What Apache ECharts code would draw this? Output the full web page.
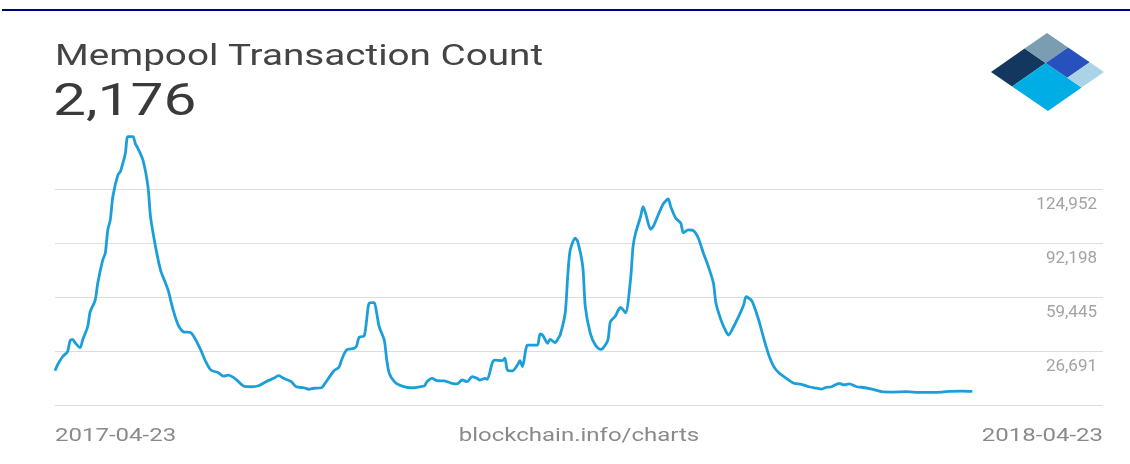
<!DOCTYPE html>
<html>
<head>
<meta charset="utf-8">
<title>Mempool Transaction Count</title>
<script src="https://cdn.jsdelivr.net/npm/echarts@6/dist/echarts.min.js"></script>
<style>
  html, body { margin: 0; padding: 0; background: #fff; }
  #chart { width: 1130px; height: 464px; }
</style>
</head>
<body>
<div id="chart"></div>
<script>
// data (day offset from 2017-04-23, tx count)
const startDate = [2017, 3, 23];
const dayOffsets = [
  0, 1, 3, 5, 6, 7, 8, 10, 11, 13, 14, 16, 17, 19, 20, 21, 22, 23, 25, 26,
  27, 28, 29, 31, 32, 33, 35, 37, 38, 40, 42, 44, 45, 47, 49, 51, 54, 56, 58, 60,
  62, 65, 67, 69, 71, 73, 75, 78, 81, 84, 87, 89, 91, 94, 96, 99, 101, 103, 106, 107,
  111, 113, 114, 116, 119, 120, 121, 123, 124, 125, 127, 128, 129, 131, 132, 133, 135, 137, 140, 143,
  145, 147, 148, 150, 152, 155, 158, 160, 162, 164, 166, 168, 169, 171, 172, 174, 175, 178, 179, 180,
  182, 184, 185, 186, 188, 190, 192, 193, 194, 196, 197, 199, 200, 201, 203, 204, 205, 207, 208, 210,
  211, 213, 215, 217, 218, 220, 221, 223, 224, 225, 227, 229, 230, 231, 233, 234, 235, 237, 238, 240,
  242, 244, 245, 247, 249, 250, 252, 254, 256, 258, 260, 262, 263, 265, 267, 268, 270, 272, 274, 275,
  277, 278, 280, 282, 284, 286, 288, 291, 294, 297, 300, 303, 305, 307, 309, 312, 314, 316, 319, 321,
  325, 329, 333, 339, 344, 349, 353, 356, 361, 365
];
const txCounts = [
  14700, 18200, 23200, 26300, 32900, 33800, 31700, 28700, 33400, 41400, 50500, 57600, 67800, 81900, 86000, 100100, 106200, 120300, 133400, 135500,
  140500, 146600, 156700, 156700, 152300, 149600, 142500, 126400, 108200, 90000, 75800, 67800, 63700, 51600, 42500, 38400, 37800, 33400, 27300, 20200,
  15200, 13500, 11500, 12100, 10700, 8100, 5500, 5000, 5600, 8100, 10100, 11700, 10100, 8100, 5000, 4400, 3500, 4100, 4400, 6100,
  14700, 16800, 21200, 27300, 28300, 29700, 35000, 35800, 45500, 55600, 56000, 49600, 41400, 33400, 21200, 13200, 8100, 6100, 4700, 4400,
  5000, 5500, 8100, 10100, 8700, 8500, 7100, 6700, 9100, 8100, 11100, 10100, 9100, 10100, 9500, 19600, 21200, 20800, 22300, 15200,
  14600, 18200, 20800, 17200, 30300, 30300, 30300, 37000, 36400, 31400, 33800, 31700, 33800, 36400, 49600, 71800, 88000, 95100, 93000, 77800,
  53600, 37400, 30300, 27700, 28300, 33400, 44500, 47900, 51100, 53200, 49900, 69800, 90000, 98100, 108200, 114200, 110200, 100500, 102100, 109200,
  115900, 118900, 114200, 107200, 104200, 98400, 100100, 99700, 95100, 86000, 77800, 67800, 55600, 45500, 38400, 36400, 41400, 47500, 54600, 59600,
  57600, 54600, 45500, 34400, 24300, 17200, 13500, 10100, 7100, 6500, 5000, 4100, 3600, 4700, 5000, 7100, 6100, 6700, 5000, 4700,
  3500, 2000, 1800, 2000, 1600, 1600, 1800, 2200, 2400, 2176
];
const yTickValues = [26691, 59445, 92198, 124952];
const xEndLabels = ['2017-04-23', '2018-04-23'];
const chartTitle = 'Mempool Transaction Count';
const sourceLabel = 'blockchain.info/charts';

const DAY = 24 * 3600 * 1000;
const startMs = Date.UTC(startDate[0], startDate[1], startDate[2]);
const lineData = dayOffsets.map((d, i) => [startMs + d * DAY, txCounts[i]]);

// evenly spaced ticks, one step below the first label and one above the last
const yStep = (yTickValues[yTickValues.length - 1] - yTickValues[0]) / (yTickValues.length - 1);
const yMin = yTickValues[0] - yStep;
const yMax = yTickValues[yTickValues.length - 1] + yStep;

// the source picture is stretched sideways, so texts get widened too
const textStretch = 1.333;

const stretchedText = (text, x, y, size, color, align) => ({
  type: 'text',
  x: x,
  y: y,
  scaleX: textStretch,
  silent: true,
  style: {
    text: text,
    fill: color,
    fontFamily: 'Roboto',
    fontSize: size,
    align: align,
    verticalAlign: 'middle'
  }
});

// blockchain logo: a diamond split into pieces (u towards top corner, v towards bottom corner)
const logoL = [991, 72], logoT = [1047, 33], logoB = [1048, 111];
const logoPt = (u, v) => [
  logoL[0] + u * (logoT[0] - logoL[0]) + v * (logoB[0] - logoL[0]),
  logoL[1] + u * (logoT[1] - logoL[1]) + v * (logoB[1] - logoL[1])
];
const logoPiece = (u0, u1, v0, v1, color) => ({
  type: 'polygon',
  silent: true,
  shape: { points: [logoPt(u0, v0), logoPt(u1, v0), logoPt(u1, v1), logoPt(u0, v1)] },
  style: { fill: color }
});

const initChart = () => {
  const dom = document.getElementById('chart');
  const myChart = echarts.init(dom, null, { renderer: 'canvas' });

  const option = {
    backgroundColor: '#ffffff',
    animation: false,
    grid: { left: 55, right: 27, top: 135, bottom: 59 },
    xAxis: {
      type: 'time',
      min: startMs,
      max: startMs + 417 * DAY,
      axisLine: { show: false },
      axisTick: { show: false },
      axisLabel: { show: false },
      splitLine: { show: false }
    },
    yAxis: {
      type: 'value',
      position: 'right',
      min: yMin,
      max: yMax,
      interval: yStep,
      axisLine: { show: false },
      axisTick: { show: false },
      splitLine: {
        show: true,
        showMaxLine: false,
        lineStyle: { color: '#dddddd', width: 1 }
      },
      axisLabel: {
        inside: true,
        margin: 6,
        verticalAlign: 'top',
        padding: [7, 0, 0, 0],
        color: '#a3a3a3',
        fontFamily: 'Roboto',
        fontSize: 17,
        formatter: (value) => {
          const t = yTickValues.find(v => Math.abs(v - value) < 1);
          return t === undefined ? '' : t.toLocaleString('en-US');
        }
      }
    },
    series: [
      {
        type: 'line',
        data: lineData,
        showSymbol: false,
        smooth: 0.25,
        clip: false,
        lineStyle: { color: '#1c9fd9', width: 2.8 },
        itemStyle: { color: '#1c9fd9' }
      }
    ],
    graphic: [
      {
        type: 'line',
        silent: true,
        shape: { x1: 2, y1: 10, x2: 1130, y2: 10 },
        style: { stroke: '#00007f', lineWidth: 2 }
      },
      stretchedText(chartTitle, 55, 58, 29, '#444444', 'left'),
      stretchedText(txCounts[txCounts.length - 1].toLocaleString('en-US'), 53, 104, 44, '#3a3a3a', 'left'),
      stretchedText(xEndLabels[0], 55, 436, 18, '#8a8a8a', 'left'),
      stretchedText(sourceLabel, 579, 436, 18, '#8a8a8a', 'center'),
      stretchedText(xEndLabels[1], 1103, 436, 18, '#8a8a8a', 'right'),
      logoPiece(0, 0.6, 0, 0.37, '#14375f'),
      logoPiece(0.6, 1, 0, 0.37, '#7b9db2'),
      logoPiece(0, 0.6, 0.37, 1, '#00ade5'),
      logoPiece(0.6, 1, 0.37, 0.75, '#2752bd'),
      logoPiece(0.6, 1, 0.75, 1, '#aad3e7')
    ]
  };

  myChart.setOption(option);
  window.addEventListener('resize', myChart.resize);
};

initChart();
</script>
</body>
</html>
